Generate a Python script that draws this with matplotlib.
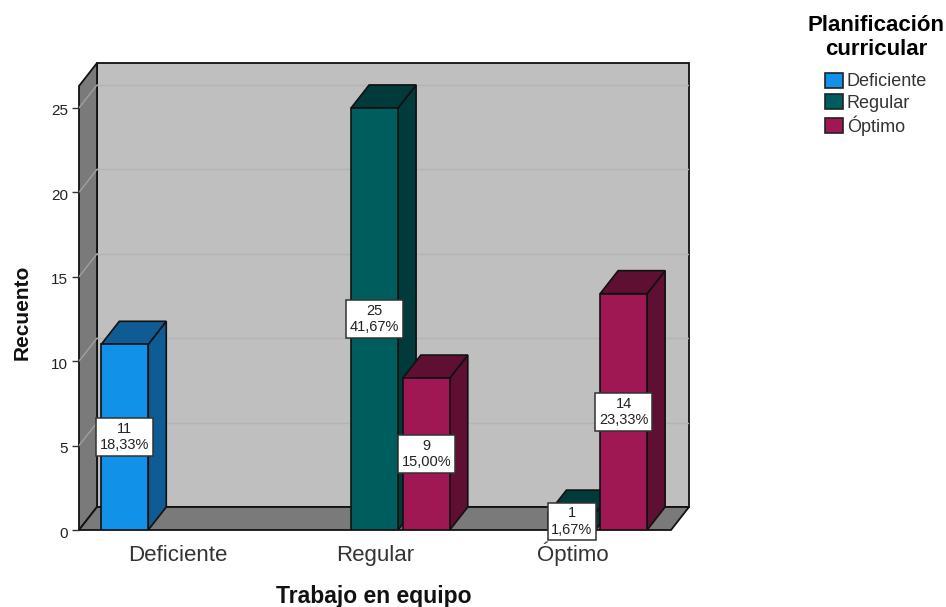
import matplotlib
matplotlib.use("Agg")
import matplotlib.pyplot as plt
from matplotlib.patches import Patch
from matplotlib.transforms import ScaledTranslation

plt.rcParams["font.family"] = ["Liberation Sans", "DejaVu Sans"]

categories = ["Deficiente", "Regular", "Óptimo"]
series_names = ["Deficiente", "Regular", "Óptimo"]
deficiente = [11, 0, 0]
regular = [0, 25, 1]
optimo = [0, 9, 14]
pct_deficiente = ["18,33%", "", ""]
pct_regular = ["", "41,67%", "1,67%"]
pct_optimo = ["", "15,00%", "23,33%"]
y_ticks = [0, 5, 10, 15, 20, 25]

front_colors = ["#1192e8", "#005d5d", "#9f1853"]
dark_colors = ["#0f5c94", "#003a3a", "#5f0f32"]
edge = "#111111"

W, H = 946, 607
fig = plt.figure(figsize=(W / 100, H / 100), dpi=100)
ax = fig.add_axes([79 / W, (H - 530) / H, 610 / W, 467 / H])

# depth of the fake 3d box in data units
dx = 18 / 197.3
dy = 23 / 16.88
x_min, x_max = -0.5, 2.5
y_top = 26.3

ax.set_xlim(x_min, x_max + dx)
ax.set_ylim(0, y_top + dy)

# walls and floor
ax.fill([x_min + dx, x_max + dx, x_max + dx, x_min + dx],
        [dy, dy, y_top + dy, y_top + dy], fc="#bfbfbf", ec=edge, lw=1.3, zorder=1, clip_on=False)
ax.fill([x_min, x_min + dx, x_min + dx, x_min],
        [0, dy, y_top + dy, y_top], fc="#7a7a7a", ec=edge, lw=1.3, zorder=1, clip_on=False)
ax.fill([x_min, x_max, x_max + dx, x_min + dx],
        [0, 0, dy, dy], fc="#7a7a7a", ec=edge, lw=1.3, zorder=1.5, clip_on=False)

# gridlines run along the side wall and the back wall
for t in y_ticks[1:]:
    ax.plot([x_min, x_min + dx], [t, t + dy], color="#a0a0a0", lw=1.0, zorder=1.2)
    ax.plot([x_min + dx, x_max + dx], [t + dy, t + dy], color="#b3b3b3", lw=1.0, zorder=1.2)

bar_w = 0.238
offsets = [-0.268, -0.002, 0.26]
all_values = [deficiente, regular, optimo]
all_pcts = [pct_deficiente, pct_regular, pct_optimo]

z = 2
for cat in range(len(categories)):
    for s, values in enumerate(all_values):
        v = values[cat]
        if v == 0:
            continue
        x0 = cat + offsets[s] - bar_w / 2
        x1 = x0 + bar_w
        ax.fill([x1, x1 + dx, x1 + dx, x1], [0, dy, v + dy, v],
                fc=dark_colors[s], ec=edge, lw=1.2, zorder=z)
        ax.fill([x0, x1, x1 + dx, x0 + dx], [v, v, v + dy, v + dy],
                fc=dark_colors[s], ec=edge, lw=1.2, zorder=z)
        ax.bar(x0 + bar_w / 2, v, bar_w, color=front_colors[s], ec=edge, lw=1.2, zorder=z + 0.1)
        z += 1

for cat in range(len(categories)):
    for s, values in enumerate(all_values):
        v = values[cat]
        if v == 0:
            continue
        ax.text(cat + offsets[s], v / 2, f"{v}\n{all_pcts[s][cat]}", ha="center", va="center",
                fontsize=10.5, color="#222222", linespacing=1.2, zorder=50,
                bbox=dict(boxstyle="square,pad=0.26", fc="white", ec="#333333", lw=1.1))

for side in ax.spines.values():
    side.set_visible(False)
ax.patch.set_visible(False)

ax.set_yticks(y_ticks)
ax.set_yticklabels([str(t) for t in y_ticks], fontsize=11, color="#222222")
ax.tick_params(axis="y", length=5, width=1, color="#333333", pad=3)
down = ScaledTranslation(0, -2 / 100, fig.dpi_scale_trans)
for lbl in ax.get_yticklabels():
    lbl.set_transform(lbl.get_transform() + down)
ax.set_xticks(range(len(categories)))
ax.set_xticklabels(categories, fontsize=16, color="#333333", va="baseline")
ax.tick_params(axis="x", length=0, pad=22)

fig.text(22 / W, 1 - 312 / H, "Recuento", rotation=90, ha="center", va="center",
         fontsize=15, fontweight="bold", color="#111111")
fig.text(374 / W, 1 - 597 / H, "Trabajo en equipo", ha="center", va="center",
         fontsize=16.5, fontweight="bold", color="#111111")

handles = [Patch(fc=c, ec="#222222", lw=1.2) for c in front_colors]
leg = fig.legend(handles, series_names, loc="upper center", bbox_to_anchor=(876 / W, 1 - 15 / H),
                 bbox_transform=fig.transFigure, frameon=False, fontsize=13,
                 title="Planificación\ncurricular", alignment="center",
                 title_fontproperties={"size": 16, "weight": "bold"},
                 handlelength=1.0, handleheight=0.9, handletextpad=0.2,
                 labelspacing=0.2, borderpad=0, borderaxespad=0)
leg.get_title().set_multialignment("center")
leg._legend_box.sep = 9
for t in leg.get_texts():
    t.set_color("#333333")

fig.savefig("out.png", dpi=100)
